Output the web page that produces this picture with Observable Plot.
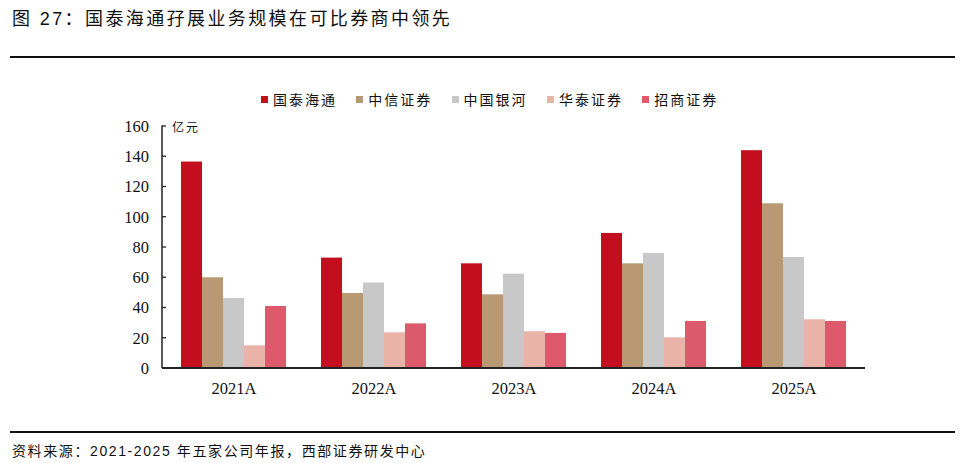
<!DOCTYPE html>
<html><head><meta charset="utf-8">
<script src="https://cdn.jsdelivr.net/npm/d3@7"></script>
<script src="https://cdn.jsdelivr.net/npm/@observablehq/plot@0.6"></script>
<style>
html,body{margin:0;padding:0;background:#fff}
body{width:967px;height:463px;position:relative;overflow:hidden;font-family:"Liberation Sans","Noto Sans CJK SC",sans-serif;color:#111}
#title{position:absolute;left:12px;top:8px;font-size:18px;line-height:22px;letter-spacing:2.4px;white-space:nowrap}
.rule{position:absolute;left:10px;width:945px;height:2px;background:#111}
#legend{position:absolute;left:261px;top:90px;height:18px;display:flex;align-items:center;white-space:nowrap;font-family:"Noto Sans CJK SC",sans-serif;font-size:14px;letter-spacing:2px}
#legend .item{display:flex;align-items:center;margin-right:19.3px}
#legend .sw{width:7px;height:7px;margin-right:5px}
#chart{position:absolute;left:0;top:110px}
#caption{position:absolute;left:12px;top:441px;font-size:14px;line-height:20px;letter-spacing:1.6px;white-space:nowrap}
</style></head><body>
<div id="title">图 27：国泰海通孖展业务规模在可比券商中领先</div>
<div class="rule" style="top:56px"></div>
<div id="legend"></div>
<div id="chart"></div>
<div class="rule" style="top:431px"></div>
<div id="caption">资料来源：2021-2025 年五家公司年报，西部证券研发中心</div>
<script>
const years = ["2021A", "2022A", "2023A", "2024A", "2025A"];
const companies = ["国泰海通", "中信证券", "中国银河", "华泰证券", "招商证券"];
const colors = ["#C20E1F", "#B89973", "#C8C8C8", "#EAB3A8", "#DC5A6B"];
const guotaiHaitong = [136.5, 73, 69.2, 89.3, 144];
const citic = [60, 49.6, 48.7, 69.2, 108.9];
const galaxy = [46.3, 56.5, 62.4, 76, 73.4];
const huatai = [15, 23.6, 24.3, 20.3, 32.2];
const cms = [41, 29.5, 23.2, 31.1, 31.1];
const yTicks = [0, 20, 40, 60, 80, 100, 120, 140, 160];
const unitLabel = "亿元";

const series = [guotaiHaitong, citic, galaxy, huatai, cms];
const data = [];
years.forEach((y, i) => companies.forEach((c, j) => data.push({year: y, company: c, value: series[j][i]})));

// legend
const legend = d3.select("#legend");
companies.forEach((c, j) => {
  const it = legend.append("div").attr("class", "item");
  it.append("div").attr("class", "sw").style("background", colors[j]);
  it.append("span").text(c);
});

const W = 967, H = 290, mL = 162, mR = 102, mT = 16, mB = 32;
const plot = Plot.plot({
  width: W, height: H,
  marginLeft: mL, marginRight: mR, marginTop: mT, marginBottom: mB,
  style: {background: "transparent", overflow: "visible"},
  fx: {domain: years, paddingInner: 0.22, paddingOuter: 0.12, label: null},
  x: {domain: companies, padding: 0, axis: null},
  y: {domain: [0, 160], axis: null},
  color: {domain: companies, range: colors},
  marks: [
    Plot.barY(data, {fx: "year", x: "company", y: "value", fill: "company", inset: 0}),
    Plot.axisFx({anchor: "bottom", tickSize: 0, tickPadding: 14, label: null,
      fontFamily: "'Liberation Serif','Times New Roman',serif", fontSize: 16.5, fill: "#111"})
  ]
});
document.getElementById("chart").appendChild(plot);

// y axis drawn with the plot's own y scale
const ys = plot.scale("y");
const svg = d3.select(plot);
const g = svg.append("g");
const y0 = ys.apply(0), yTop = ys.apply(160);
g.append("line").attr("x1", mL).attr("x2", W - mR).attr("y1", y0).attr("y2", y0)
  .attr("stroke", "#222").attr("stroke-width", 2);
g.append("line").attr("x1", mL).attr("x2", mL).attr("y1", y0).attr("y2", yTop - 0.5)
  .attr("stroke", "#222").attr("stroke-width", 1.5);
yTicks.forEach(t => {
  const yy = ys.apply(t);
  g.append("line").attr("x1", mL).attr("x2", mL + 4).attr("y1", yy).attr("y2", yy)
    .attr("stroke", "#222").attr("stroke-width", 1.3);
  g.append("text").attr("x", mL - 13).attr("y", yy).attr("dy", "0.35em")
    .attr("text-anchor", "end").attr("font-family", "'Liberation Serif','Times New Roman',serif")
    .attr("font-size", 16.5).attr("fill", "#111").text(t);
});
g.append("text").attr("x", mL + 10).attr("y", yTop + 2).attr("dy", "0.35em")
  .attr("text-anchor", "start")
  .attr("font-family", "'Noto Sans CJK SC',sans-serif").attr("font-size", 12)
  .attr("letter-spacing", "2px").attr("fill", "#111").text(unitLabel);
</script>
</body></html>
